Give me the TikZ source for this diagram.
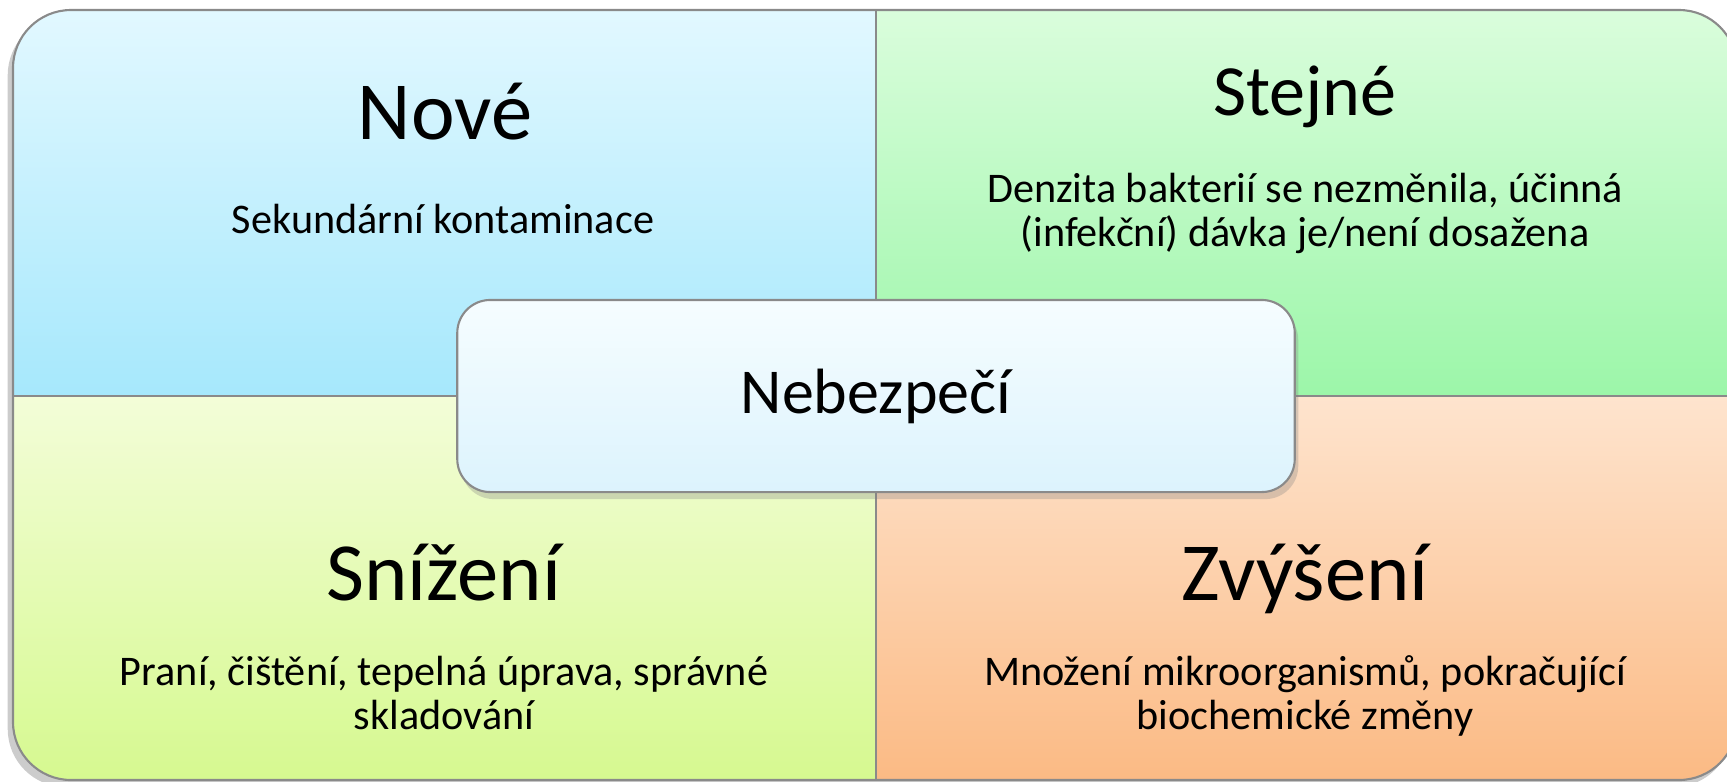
\documentclass[tikz,border=0pt]{standalone}
\usepackage{fontspec}
\setmainfont{Carlito}
\usetikzlibrary{shadows}

\definecolor{noveTop}{HTML}{E2F8FF}
\definecolor{noveBot}{HTML}{A6E8FC}
\definecolor{stejneTop}{HTML}{DAFDDC}
\definecolor{stejneBot}{HTML}{9CF6A9}
\definecolor{snizeniTop}{HTML}{F3FDD8}
\definecolor{snizeniBot}{HTML}{D6F990}
\definecolor{zvyseniTop}{HTML}{FEE4CE}
\definecolor{zvyseniBot}{HTML}{FBBA84}
\definecolor{hubTop}{HTML}{F6FDFF}
\definecolor{hubBot}{HTML}{DCF3FD}
\definecolor{rim}{HTML}{8A8A8A}

\tikzset{
  head/.style={anchor=base, font=\fontsize{23.5}{28}\selectfont},
  body/.style={anchor=base, align=center, font=\fontsize{12}{12.3}\selectfont},
  hub/.style={draw=rim, line width=0.6pt, rounded corners=0.33cm,
    minimum width=8.37cm, minimum height=1.92cm,
    top color=hubTop, bottom color=hubBot,
    drop shadow={shadow xshift=1pt, shadow yshift=-2pt, opacity=0.3},
    font=\fontsize{18.2}{22}\selectfont},
  rimline/.style={draw=rim, line width=0.6pt}
}

\begin{document}
\begin{tikzpicture}[x=0.01cm, y=-0.01cm]
\clip (0,0) rectangle (1727,781);
\path[fill=white, rounded corners=0.58cm,
  drop shadow={shadow xshift=-1.5pt, shadow yshift=-2pt, opacity=0.4}]
  (13,10) rectangle (1737,780);
% four quadrants
\begin{scope}
\clip[rounded corners=0.58cm] (13,10) rectangle (1737,780);
\path[top color=noveTop, bottom color=noveBot] (13,10) rectangle (876,396);
\path[top color=stejneTop, bottom color=stejneBot] (876,10) rectangle (1737,396);
\path[top color=snizeniTop, bottom color=snizeniBot] (13,396) rectangle (876,780);
\path[top color=zvyseniTop, bottom color=zvyseniBot] (876,396) rectangle (1737,780);
\end{scope}
\draw[rimline] (876,10) -- (876,780);
\draw[rimline] (13,396) -- (1737,396);
\draw[rimline, rounded corners=0.58cm] (13,10) rectangle (1737,780);

\node[head] (nove) at (445,139) {Nové};
\node[body] (noveText) at (443,233) {Sekundární kontaminace};
\node[head, font=\fontsize{20.5}{24}\selectfont] (stejne) at (1305,115) {Stejné};
\node[body] (stejneText) at (1305,246) {Denzita bakterií se nezměnila, účinná\\(infekční) dávka je/není dosažena};
\node[head] (snizeni) at (444,600) {Snížení};
\node[body] (snizeniText) at (444,729) {Praní, čištění, tepelná úprava, správné\\skladování};
\node[head] (zvyseni) at (1305,600) {Zvýšení};
\node[body] (zvyseniText) at (1305,729) {Množení mikroorganismů, pokračující\\biochemické změny};

\node[hub] (nebezpeci) at (876,396) {Nebezpečí};
\end{tikzpicture}
\end{document}
